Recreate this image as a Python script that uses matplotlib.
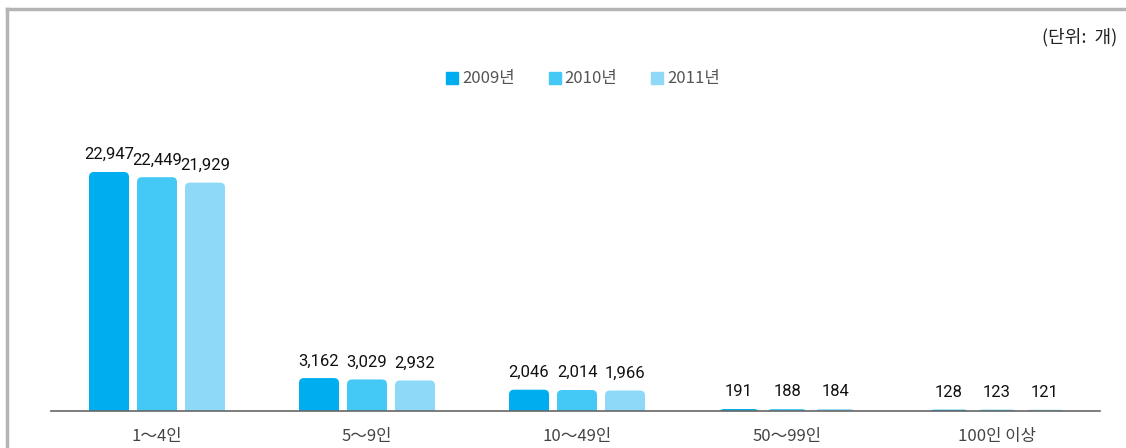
import matplotlib
matplotlib.use('Agg')
import matplotlib.pyplot as plt
import numpy as np
from matplotlib.patches import FancyBboxPatch
from matplotlib.lines import Line2D

plt.rcParams['font.family'] = ['Noto Sans CJK KR', 'DejaVu Sans']

categories = ['1～4인', '5～9인', '10～49인', '50～99인', '100인 이상']
years = ['2009년', '2010년', '2011년']
v2009 = [22947, 3162, 2046, 191, 128]
v2010 = [22449, 3029, 2014, 188, 123]
v2011 = [21929, 2932, 1966, 184, 121]
colors = ['#00aeef', '#44c8f5', '#8fd9f8']

fig = plt.figure(figsize=(11.26, 4.48), dpi=100)
ax = fig.add_axes([0, 37 / 448, 1, 351 / 448])
x = np.arange(len(categories))
# axes spans whole width; limits put the groups where they sit in the picture
ax.set_xlim(-157 / 210, 4 + (1126 - 997) / 210)
ax.set_ylim(0, 33700)

width = 40 / 210
offset = 48 / 210
r_x = 5 / 210
r_y = 5 * 33700 / 351
for i, (vals, col) in enumerate(zip([v2009, v2010, v2011], colors)):
    bars = ax.bar(x + (i - 1) * offset, vals, width=width, color=col)
    for b, v in zip(bars, vals):
        bx, bw, bh = b.get_x(), b.get_width(), b.get_height()
        b.remove()
        # rounded top; bottom pushed below the axis and clipped away
        p = FancyBboxPatch((bx, -2000), bw, bh + 2000,
                           boxstyle='round,pad=0,rounding_size=%f' % r_x,
                           mutation_aspect=r_y / r_x, fc=col, ec='none', clip_on=True)
        ax.add_patch(p)
        ax.annotate(f'{v:,}', (bx + bw / 2, bh), xytext=(0, 7), textcoords='offset points',
                    ha='center', va='bottom', fontsize=12, family=['Roboto', 'DejaVu Sans'],
                    color='#111111')

for s in ['top', 'right', 'left', 'bottom']:
    ax.spines[s].set_visible(False)
ax.plot([-106 / 210, 4 + 103 / 210], [0, 0], color='#666666', lw=1.2, clip_on=False)
ax.set_yticks([])
ax.set_xticks(x)
ax.set_xticklabels(categories, fontsize=12, color='#444444')
ax.tick_params(axis='x', length=0, pad=12)

handles = [Line2D([], [], marker='s', ls='none', color=c, markersize=9) for c in colors]
leg = fig.legend(handles, years, loc='center', bbox_to_anchor=(582 / 1126, 1 - 79 / 448),
                 ncol=3, frameon=False, fontsize=12, handletextpad=0.1, columnspacing=1.9,
                 handlelength=1.0)
for t in leg.get_texts():
    t.set_color('#555555')

fig.text(1117 / 1126, 1 - 37 / 448, '(단위:  개)', ha='right', va='center', fontsize=13, color='#222222')

# frame lines (top and left)
fig.add_artist(Line2D([7 / 1126, 1], [1 - 9 / 448, 1 - 9 / 448], color='#b4b4b4', lw=2.5))
fig.add_artist(Line2D([7 / 1126, 7 / 1126], [0, 1 - 9 / 448], color='#b4b4b4', lw=2.5))

fig.savefig('out.png', dpi=100)
